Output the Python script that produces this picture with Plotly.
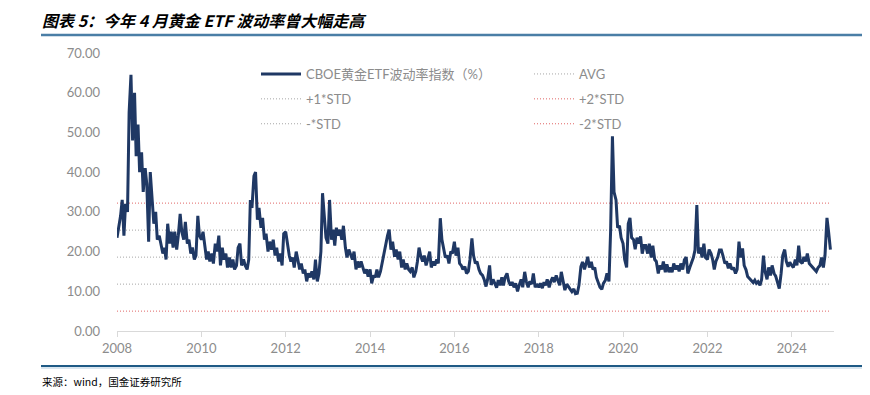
import pandas as pd
import plotly.graph_objects as go

# CBOE gold ETF volatility index (%), two readings per month
v2008 = [23.5, 26, 29, 33, 24, 32, 30, 55, 64.5, 48, 60, 44, 52, 40, 45, 35, 41, 37, 22.5, 40, 31, 27, 30, 23]
v2009 = [24, 22, 19.5, 21, 18, 27, 22, 25, 21, 25, 20.5, 24, 29.5, 25, 23, 27.5, 22, 23, 19.5, 21, 18, 19, 29, 24]
v2010 = [23, 25, 21, 18, 20, 17.5, 19.5, 17, 22, 20, 24, 16.5, 21, 18, 19.5, 16, 18.5, 16, 18, 15.5, 16.5, 21, 22, 16.5]
v2011 = [18, 16.5, 15.5, 18, 33, 31, 39, 40, 28, 31, 26, 28.5, 23, 24.5, 20, 22.5, 20.5, 23, 19, 21, 17.5, 19.5, 16.5, 24.5]
v2012 = [25, 22, 19, 17.5, 18.5, 16, 20, 18, 15.5, 17, 14.5, 15.5, 12.5, 14.5, 13.5, 15, 13, 18, 12.5, 14.5, 20, 34.7, 28, 23.5]
v2013 = [22, 33, 23, 25.5, 21.5, 26, 24, 25.5, 23, 26.5, 21, 18.5, 20.5, 19.5, 18, 20, 15.5, 17.5, 16, 17.5, 16, 14.5, 15.5, 13.7]
v2014 = [15.5, 12, 14, 13.5, 15.5, 13.5, 15, 17, 20, 22, 24, 25.5, 20.5, 22.5, 18.7, 20.5, 18, 20, 16, 18, 15.5, 17, 15.5, 15]
v2015 = [16, 13.5, 15, 17.5, 21, 19, 17.5, 19, 16.5, 18, 20, 16, 17.5, 16.5, 18, 17, 28.4, 23, 20, 18.5, 19, 17, 20, 19.5]
v2016 = [22.5, 19, 21, 17, 16.5, 15.5, 16.2, 14.5, 15, 18, 23.3, 19, 17, 17.5, 15.5, 14.5, 14, 13, 11.2, 13, 16.5, 11.6, 13, 12]
v2017 = [10.9, 12.8, 11.5, 13.5, 11.5, 13.5, 14.5, 12.5, 11.5, 12.3, 11, 12, 10, 11.5, 13, 11, 14.9, 12.5, 11, 12.5, 11.8, 14.5, 11, 11.8]
v2018 = [11, 12, 10.8, 12.3, 11.5, 13, 11, 12.5, 13.5, 12.3, 14, 12.8, 11.5, 14.9, 12.3, 10.3, 11.8, 11, 10.5, 9.9, 10.6, 9.4, 9.5, 11.5]
v2019 = [16.2, 17.4, 15.5, 17, 18.7, 16, 17.4, 15.5, 16, 13.5, 12, 11, 10.5, 12, 12.8, 14.5, 12.5, 25, 49, 35, 33, 26, 26.5, 23.5]
v2020 = [22, 18, 16, 27, 28.5, 23.5, 23, 20.6, 23.5, 22, 23.8, 19.5, 21.5, 21.5, 19.5, 22, 18.5, 21.5, 18, 17.5, 14.5, 16.5, 15.5, 17.5]
v2021 = [14.8, 16.8, 14.8, 16, 14.8, 17, 15.5, 16.5, 15, 17, 15.5, 17.9, 18.6, 14.5, 16, 17, 18.5, 20.4, 31.7, 19.5, 21, 18.5, 22, 18.5]
v2022 = [18, 20.5, 19.5, 18, 15.5, 17.5, 18.7, 20.4, 20.4, 19, 17, 17.5, 15.8, 17, 15.5, 16, 14.5, 15.5, 22.5, 18.5, 20.8, 16.5, 15.4, 13.7]
v2023 = [13.2, 12.8, 12.2, 12.8, 12, 12.4, 11.5, 13, 19, 15, 13, 16, 14, 16.5, 14.5, 13.8, 12.3, 10.7, 14.5, 19, 20.5, 17.5, 16.2, 17.3]
v2024 = [16.5, 16, 18, 16.5, 21.5, 17.5, 17, 18.7, 17.5, 19.5, 17, 16.5, 15.9, 15.4, 15, 15.9, 16.5, 18.5, 16, 19, 28.5, 25, 20.5]

years = list(range(2008, 2025))
yearly_values = [v2008, v2009, v2010, v2011, v2012, v2013, v2014, v2015, v2016,
                 v2017, v2018, v2019, v2020, v2021, v2022, v2023, v2024]

avg_value = 18.6
std_value = 6.8

x_ticks = ["2008", "2010", "2012", "2014", "2016", "2018", "2020", "2022", "2024"]
y_ticks = [0, 10, 20, 30, 40, 50, 60, 70]

dates, values = [], []
for yr, vals in zip(years, yearly_values):
    dates.extend(pd.date_range(f"{yr}-01-01", periods=len(vals), freq="SMS"))
    values.extend(vals)

# page offset of the plot div (body margin) and figure geometry in screen pixels
OFF = 8
W, H = 870 - OFF, 395 - OFF
PL, PR, PT, PB = 117, 834, 53, 331          # plot area on screen
L, R, T, B = PL - OFF, 870 - PR, PT - OFF, 395 - PB
PW, PH = PR - PL, PB - PT


def px(x):
    return (x - PL) / PW


def py(y):
    return (PB - y) / PH


fig = go.Figure()

ref_lines = [
    ("AVG", avg_value, "#a6a6a6", "legend2", 2),
    ("+1*STD", avg_value + std_value, "#a6a6a6", "legend", 2),
    ("+2*STD", avg_value + 2 * std_value, "#e06666", "legend2", 3),
    ("-*STD", avg_value - std_value, "#a6a6a6", "legend", 3),
    ("-2*STD", avg_value - 2 * std_value, "#e06666", "legend2", 4),
]
for name, lvl, col, lg, rank in ref_lines:
    fig.add_trace(go.Scatter(
        x=[dates[0], dates[-1]], y=[lvl, lvl], mode="lines", name=name,
        line=dict(color=col, width=1, dash="1px,2px"),
        legend=lg, legendgroup=name, legendrank=rank, hoverinfo="skip"))

fig.add_trace(go.Scatter(
    x=dates, y=values, mode="lines", name="CBOE黄金ETF波动率指数（%）",
    line=dict(color="#1f3864", width=3), legend="legend",
    legendgroup="main", legendrank=1))

legend_common = dict(
    font=dict(family="Lato, Noto Sans CJK SC, sans-serif", size=13, color="#8c8c8c"),
    bgcolor="rgba(0,0,0,0)", tracegroupgap=5, itemwidth=40,
    traceorder="grouped", xanchor="left", yanchor="top")

fig.update_layout(
    width=W, height=H,
    margin=dict(l=L, r=R, t=T, b=B),
    paper_bgcolor="white", plot_bgcolor="white",
    showlegend=True,
    legend=dict(x=px(256), y=py(59), **legend_common),
    legend2=dict(x=px(529), y=py(59), **legend_common),
    xaxis=dict(
        type="date", range=["2008-01-01", "2025-01-01"],
        tickvals=[f"{t}-01-01" for t in x_ticks], ticktext=x_ticks,
        showgrid=False, zeroline=False,
        showline=True, linecolor="#d9d9d9", linewidth=1,
        ticks="outside", ticklen=5, tickcolor="#d9d9d9",
        tickfont=dict(family="Lato, sans-serif", size=13, color="#8c8c8c")),
    yaxis=dict(
        range=[0, 70], tickvals=y_ticks, tickformat=".2f",
        showgrid=False, zeroline=False, showline=False,
        ticks="", ticklabelstandoff=16,
        tickfont=dict(family="Lato, sans-serif", size=13, color="#8c8c8c")),
    annotations=[
        dict(text="<b><i>图表 5：今年 4 月黄金 ETF 波动率曾大幅走高</i></b>",
             xref="paper", yref="paper", x=px(41), y=py(19.5),
             xanchor="left", yanchor="middle", showarrow=False, borderpad=0,
             font=dict(family="Noto Sans CJK SC", size=16, color="#000000")),
        dict(text="来源：wind，国金证券研究所",
             xref="paper", yref="paper", x=px(40), y=py(381),
             xanchor="left", yanchor="middle", showarrow=False,
             font=dict(family="Noto Sans CJK SC", size=10.5, color="#000000")),
    ],
    shapes=[
        dict(type="line", xref="paper", yref="paper", x0=px(41), x1=px(862),
             y0=py(35), y1=py(35), line=dict(color="#4a7ea6", width=2.5)),
        dict(type="line", xref="paper", yref="paper", x0=px(41), x1=px(862),
             y0=py(366), y1=py(366), line=dict(color="#1f5a85", width=2)),
        dict(type="line", xref="paper", yref="paper", x0=px(41), x1=px(862),
             y0=py(368), y1=py(368), line=dict(color="#b4cde0", width=1)),
    ],
)

fig.write_html("out.html")
